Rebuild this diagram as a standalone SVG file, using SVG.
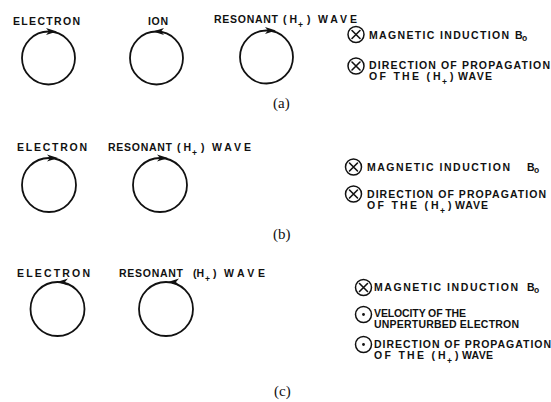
<svg xmlns="http://www.w3.org/2000/svg" xmlns:xlink="http://www.w3.org/1999/xlink" width="551" height="402" viewBox="0 0 551 402">
<style>
.t{font-family:"Liberation Sans",Arial,sans-serif;font-size:10.5px;font-weight:bold;fill:#111}
.s{font-family:"Liberation Sans",Arial,sans-serif;font-size:8.5px;font-weight:bold;fill:#111}
.lab{font-family:"Liberation Serif","Times New Roman",serif;font-size:15px;fill:#111}
.orb{fill:none;stroke:#111;stroke-width:1.8}
.sym{fill:none;stroke:#111;stroke-width:1.5}
.x{stroke:#111;stroke-width:1.6;stroke-linecap:round}
</style>
<defs>
<path id="ar" d="M0,0 L-11,-3.5 L-8,0 L-11,3.5 Z" fill="#111"/>
<g id="cx"><circle r="8" class="sym"/><path d="M-4,-4 L4,4 M4,-4 L-4,4" class="x"/></g>
<g id="cd"><circle r="8" class="sym"/><circle r="1.4" fill="#111"/></g>
</defs>
<rect width="551" height="402" fill="#fff"/>

<!-- panel (a) -->
<g id="a-electron">
<text class="t" x="13" y="25" textLength="67" lengthAdjust="spacing">ELECTRON</text>
<circle class="orb" cx="48.5" cy="58" r="26.5"/>
<use xlink:href="#ar" transform="translate(57,31.5)"/>
</g>
<g id="a-ion">
<text class="t" x="148" y="25" textLength="20" lengthAdjust="spacing">ION</text>
<circle class="orb" cx="156.5" cy="58" r="26.5"/>
<use xlink:href="#ar" transform="translate(153,31.5) scale(-1,1)"/>
</g>
<g id="a-wave">
<text class="t" x="214" y="23" textLength="64" lengthAdjust="spacing">RESONANT</text>
<text class="t" x="283" y="23">( H</text>
<text class="s" x="298" y="28">+</text>
<text class="t" x="307" y="23">)</text>
<text class="t" x="318" y="23" textLength="39" lengthAdjust="spacing">WAVE</text>
<circle class="orb" cx="266.5" cy="57" r="26.5"/>
<use xlink:href="#ar" transform="translate(276,30.5)"/>
</g>
<g id="a-legend">
<use xlink:href="#cx" x="356" y="34.5"/>
<text class="t" x="369" y="39" textLength="140" lengthAdjust="spacing">MAGNETIC INDUCTION</text>
<text class="t" x="515" y="39">B</text>
<text class="s" x="522" y="41">o</text>
<use xlink:href="#cx" x="356" y="66"/>
<text class="t" x="369" y="69" textLength="181" lengthAdjust="spacing">DIRECTION OF PROPAGATION</text>
<text class="t" x="369" y="80" textLength="61" lengthAdjust="spacing">OF THE (</text>
<text class="t" x="433" y="80">H</text>
<text class="s" x="442" y="85">+</text>
<text class="t" x="450" y="80">)</text>
<text class="t" x="458" y="80" textLength="34" lengthAdjust="spacing">WAVE</text>
</g>
<text class="lab" x="273" y="108">(a)</text>

<!-- panel (b) -->
<g id="b-electron">
<text class="t" x="17" y="151" textLength="70" lengthAdjust="spacing">ELECTRON</text>
<circle class="orb" cx="49" cy="185" r="27"/>
<use xlink:href="#ar" transform="translate(58,158)"/>
</g>
<g id="b-wave">
<text class="t" x="108" y="151" textLength="64" lengthAdjust="spacing">RESONANT</text>
<text class="t" x="177" y="151">( H</text>
<text class="s" x="192" y="156">+</text>
<text class="t" x="201" y="151">)</text>
<text class="t" x="212" y="151" textLength="39" lengthAdjust="spacing">WAVE</text>
<circle class="orb" cx="160" cy="185" r="27"/>
<use xlink:href="#ar" transform="translate(168,158)"/>
</g>
<g id="b-legend">
<use xlink:href="#cx" x="353.5" y="167"/>
<text class="t" x="367" y="171" textLength="143" lengthAdjust="spacing">MAGNETIC INDUCTION</text>
<text class="t" x="527" y="171">B</text>
<text class="s" x="534" y="173">o</text>
<use xlink:href="#cx" x="353.5" y="194"/>
<text class="t" x="367" y="198" textLength="179" lengthAdjust="spacing">DIRECTION OF PROPAGATION</text>
<text class="t" x="367" y="209" textLength="61" lengthAdjust="spacing">OF THE (</text>
<text class="t" x="431" y="209">H</text>
<text class="s" x="440" y="214">+</text>
<text class="t" x="448" y="209">)</text>
<text class="t" x="455" y="209" textLength="33" lengthAdjust="spacing">WAVE</text>
</g>
<text class="lab" x="273" y="239">(b)</text>

<!-- panel (c) -->
<g id="c-electron">
<text class="t" x="17" y="277" textLength="73" lengthAdjust="spacing">ELECTRON</text>
<circle class="orb" cx="57.5" cy="309" r="27"/>
<use xlink:href="#ar" transform="translate(57,282) scale(-1,1)"/>
</g>
<g id="c-wave">
<text class="t" x="119" y="277" textLength="64" lengthAdjust="spacing">RESONANT</text>
<text class="t" x="193" y="277">(H</text>
<text class="s" x="205" y="282">+</text>
<text class="t" x="213" y="277">)</text>
<text class="t" x="224" y="277" textLength="41" lengthAdjust="spacing">WAVE</text>
<circle class="orb" cx="166" cy="309" r="27"/>
<use xlink:href="#ar" transform="translate(168,282) scale(-1,1)"/>
</g>
<g id="c-legend">
<use xlink:href="#cx" x="363.5" y="287.5"/>
<text class="t" x="374" y="291" textLength="144" lengthAdjust="spacing">MAGNETIC INDUCTION</text>
<text class="t" x="527" y="291">B</text>
<text class="s" x="534" y="293">o</text>
<use xlink:href="#cd" x="363.5" y="314.5"/>
<text class="t" x="374" y="317" textLength="92" lengthAdjust="spacing">VELOCITY OF THE</text>
<text class="t" x="374" y="328" textLength="145" lengthAdjust="spacing">UNPERTURBED ELECTRON</text>
<use xlink:href="#cd" x="363.5" y="344.5"/>
<text class="t" x="374" y="348" textLength="177" lengthAdjust="spacing">DIRECTION OF PROPAGATION</text>
<text class="t" x="374" y="359" textLength="61" lengthAdjust="spacing">OF THE (</text>
<text class="t" x="438" y="359">H</text>
<text class="s" x="447" y="364">+</text>
<text class="t" x="455" y="359">)</text>
<text class="t" x="462" y="359" textLength="31" lengthAdjust="spacing">WAVE</text>
</g>
<text class="lab" x="274" y="396">(c)</text>
</svg>
